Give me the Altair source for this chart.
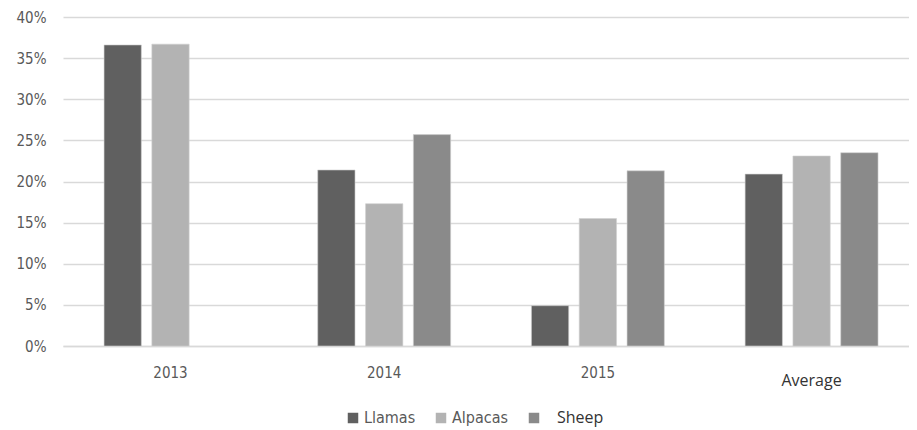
import altair as alt
import pandas as pd

categories = ["2013", "2014", "2015", "Average"]
series = ["Llamas", "Alpacas", "Sheep"]
llamas = [0.366, 0.214, 0.049, 0.209]
alpacas = [0.367, 0.173, 0.155, 0.231]
sheep = [None, 0.257, 0.213, 0.235]
colors = ["#606060", "#b3b3b3", "#8a8a8a"]

rows = []
for name, vals in zip(series, [llamas, alpacas, sheep]):
    for c, v in zip(categories, vals):
        if v is not None:
            rows.append({"category": c, "series": name, "value": v})
df = pd.DataFrame(rows)

font = "Liberation Sans Narrow, DejaVu Sans Condensed, Liberation Sans"
alt_font = "Open Sans"

chart = alt.Chart(df).mark_bar(stroke="#d0d0d0", strokeWidth=0.6).encode(
    x=alt.X("category:N", sort=categories, title=None,
            scale=alt.Scale(paddingInner=0.378, paddingOuter=0.1685, align=0.57),
            axis=alt.Axis(labelAngle=0, ticks=False, domain=True, domainColor="#d9d9d9",
                          domainWidth=1.5,
                          labelFontSize={"condition": {"test": "datum.value === 'Average'", "value": 16}, "value": 15},
                          labelFont={"condition": {"test": "datum.value === 'Average'", "value": alt_font}, "value": font},
                          labelColor={"condition": {"test": "datum.value === 'Average'", "value": "#333333"}, "value": "#595959"},
                          labelPadding={"condition": {"test": "datum.value === 'Average'", "value": 26}, "value": 19})),
    xOffset=alt.XOffset("series:N", sort=series, scale=alt.Scale(paddingInner=0.22, paddingOuter=0)),
    y=alt.Y("value:Q", title=None,
            scale=alt.Scale(domain=[0, 0.4]),
            axis=alt.Axis(format=".0%", values=[i / 100 for i in range(0, 41, 5)], ticks=False,
                          domain=False, gridColor="#d9d9d9", gridWidth=1.5,
                          labelFont=font, labelFontSize=15, labelColor="#595959", labelPadding=17)),
    color=alt.Color("series:N", sort=series, scale=alt.Scale(domain=series, range=colors),
                    legend=alt.Legend(title=None, orient="none", direction="horizontal",
                                      legendX=282, legendY=393, symbolType="square", symbolSize=110,
                                      symbolStrokeWidth=0, labelFontSize=16,
                                      labelFont=alt.ExprRef("datum.label === 'Sheep' ? 'Open Sans' : 'Liberation Sans Narrow, DejaVu Sans Condensed, Liberation Sans'"),
                                      labelColor=alt.ExprRef("datum.label === 'Sheep' ? '#333333' : '#595959'"),
                                      labelOffset=alt.ExprRef("datum.label === 'Sheep' ? 15 : 3"),
                                      columnPadding=17, symbolOffset=0)),
).properties(width=846, height=329, padding={"left": 8, "top": 2, "right": 0, "bottom": 5}).configure_view(stroke=None)

chart.save("out.html", embed_options={"renderer": "svg", "actions": False})
